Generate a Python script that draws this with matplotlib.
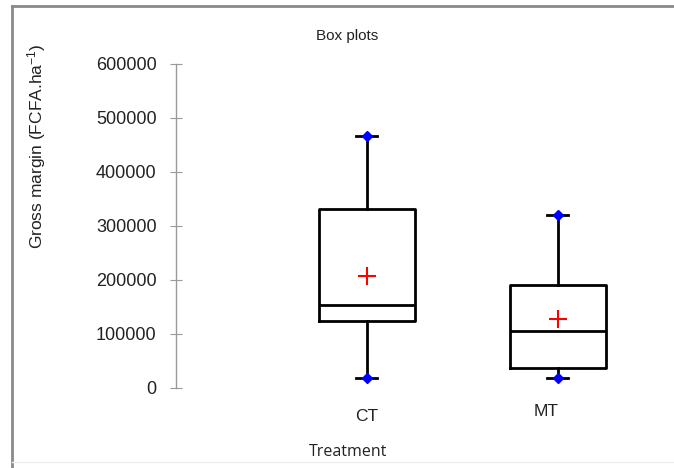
import matplotlib.pyplot as plt
from matplotlib.lines import Line2D
from matplotlib.transforms import ScaledTranslation

plt.rcParams['font.family'] = ['Liberation Sans', 'DejaVu Sans']
plt.rcParams['mathtext.fontset'] = 'custom'
plt.rcParams['mathtext.rm'] = 'Liberation Sans'
plt.rcParams['mathtext.default'] = 'regular'

treatments = ['CT', 'MT']
whisker_low = [19000, 18000]
q1 = [125000, 37500]
median = [154000, 106000]
q3 = [331000, 191000]
whisker_high = [467000, 320000]
mean = [208000, 128000]

W, H = 674, 468
fig = plt.figure(figsize=(W / 100, H / 100), dpi=100)

# plot area in pixels: y axis at x=176, 0 at y=388, 600000 at y=64
ax = fig.add_axes([176 / W, (H - 388) / H, (650 - 176) / W, 324 / H])

stats = []
for i, name in enumerate(treatments):
    stats.append({
        'label': name,
        'whislo': whisker_low[i],
        'q1': q1[i],
        'med': median[i],
        'q3': q3[i],
        'whishi': whisker_high[i],
        'mean': mean[i],
        'fliers': [],
    })

positions = [1, 2]
ax.bxp(stats, positions=positions, widths=0.5, showmeans=True,
       boxprops=dict(color='black', linewidth=2),
       medianprops=dict(color='black', linewidth=2),
       whiskerprops=dict(color='black', linewidth=2),
       capprops=dict(color='black', linewidth=2),
       capwidths=0.11,
       meanprops=dict(marker='+', markeredgecolor='red', markersize=13,
                      markeredgewidth=1.5))

# blue diamonds at the whisker ends
ax.plot(positions, whisker_low, linestyle='none', marker='D', color='blue',
        markersize=5, zorder=5)
ax.plot(positions, whisker_high, linestyle='none', marker='D', color='blue',
        markersize=5, zorder=5)

ax.set_xlim(0, 2.482)
ax.set_ylim(0, 600000)
ax.set_yticks(range(0, 600001, 100000))
ax.set_yticklabels([str(v) for v in range(0, 600001, 100000)])
ax.tick_params(axis='y', direction='inout', length=8, color='#999999',
               labelsize=13, labelcolor='#222222', pad=10)

ax.set_xticks(positions)
ax.set_xticklabels(treatments)
ax.tick_params(axis='x', length=0, labelsize=12.5, pad=15, labelcolor='#222222')
# MT label sits a little left and higher
mt_label = ax.get_xticklabels()[1]
mt_label.set_transform(mt_label.get_transform() +
                       ScaledTranslation(-0.12, 0.05, fig.dpi_scale_trans))

for side in ['top', 'right', 'bottom']:
    ax.spines[side].set_visible(False)
ax.spines['left'].set_color('#999999')
ax.spines['left'].set_linewidth(1)

fig.text(347 / W, 1 - 36 / H, 'Box plots', ha='center', va='center',
         fontsize=11, color='#222222')
fig.text(348 / W, 1 - 452 / H, 'Treatment', ha='center', va='center',
         fontsize=11.5, color='#222222', family=['Open Sans', 'DejaVu Sans'])
fig.text(37 / W, 1 - 146 / H, 'Gross margin (FCFA.ha$^{-1}$)', ha='center',
         va='center', rotation=90, fontsize=12.5, color='#222222')

# outer chart frame
fig.add_artist(Line2D([12 / W, 12 / W], [0, 1 - 6 / H], transform=fig.transFigure,
                      color='#8a8a8a', linewidth=2))
fig.add_artist(Line2D([12 / W, 1], [1 - 6 / H, 1 - 6 / H], transform=fig.transFigure,
                      color='#8a8a8a', linewidth=2))
fig.add_artist(Line2D([12 / W, 1], [1 - 462 / H, 1 - 462 / H], transform=fig.transFigure,
                      color='#eeeeee', linewidth=1))

fig.savefig('out.png', dpi=100)
